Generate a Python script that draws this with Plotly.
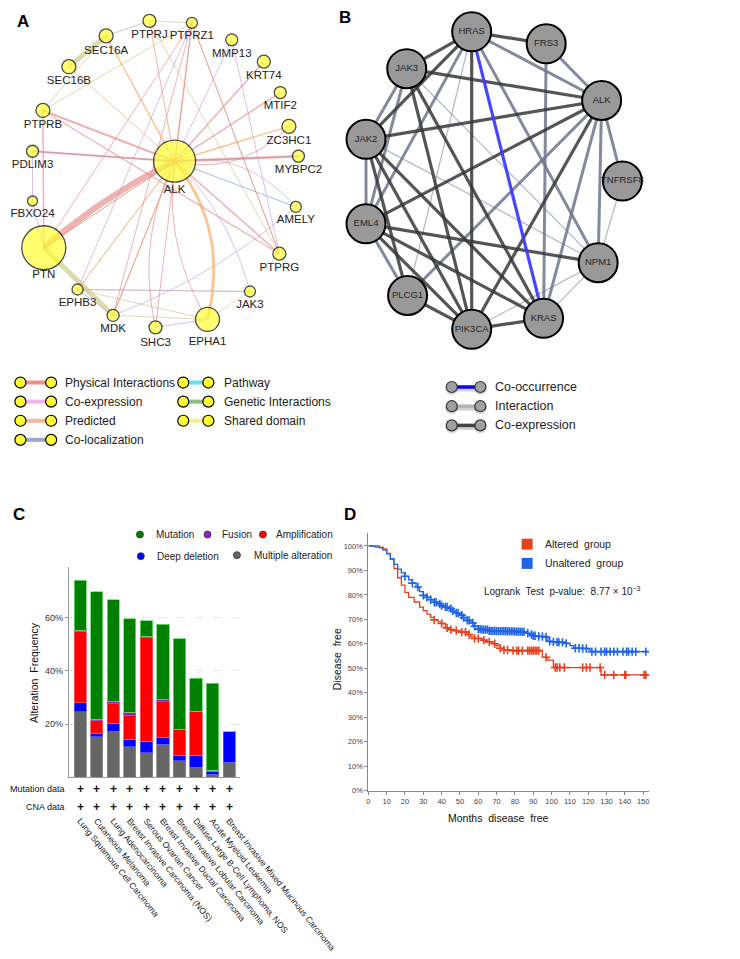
import math
import plotly.graph_objects as go

W, H = 740, 959
FONT = "Arial, Liberation Sans, sans-serif"

# ------------------------------------------------------------------ Panel A data
a_genes = ["ALK", "PTN", "EPHA1", "PTPRJ", "PTPRZ1", "SEC16A", "MMP13", "KRT74", "SEC16B",
           "MTIF2", "PTPRB", "ZC3HC1", "PDLIM3", "MYBPC2", "FBXO24", "AMELY", "PTPRG",
           "EPHB3", "JAK3", "MDK", "SHC3"]
# network layout (pixel positions of the GeneMANIA layout)
a_layout_x = [190, 39, 228, 161, 210, 111, 256, 293, 68, 312, 38, 322, 26, 333, 26, 330, 311, 78, 277, 119, 168]
a_layout_y = [154, 241, 313, 13, 15, 28, 32, 54, 59, 85, 103, 119, 144, 149, 194, 200, 247, 283, 285, 309, 321]
a_score = [42, 44, 24, 13, 11, 14, 12, 13, 14, 12, 14, 14, 12, 12, 10, 11, 13, 11, 11, 12, 13]

# edges: (gene1, gene2, network type, weight)
a_edges = [
    ("ALK", "PTN", "Physical Interactions", 6), ("ALK", "PTPRB", "Physical Interactions", 2),
    ("ALK", "PDLIM3", "Physical Interactions", 2), ("ALK", "MYBPC2", "Physical Interactions", 2.5),
    ("ALK", "KRT74", "Physical Interactions", 1.5), ("ALK", "MTIF2", "Physical Interactions", 1.5),
    ("ALK", "ZC3HC1", "Physical Interactions", 1), ("ALK", "PTPRJ", "Physical Interactions", 1),
    ("ALK", "PTPRZ1", "Physical Interactions", 1), ("ALK", "PTPRG", "Physical Interactions", 1.5),
    ("ALK", "SHC3", "Physical Interactions", 1), ("ALK", "EPHA1", "Physical Interactions", 1),
    ("ALK", "MDK", "Physical Interactions", 1), ("PTPRZ1", "PTN", "Physical Interactions", 1),
    ("PTPRZ1", "MDK", "Physical Interactions", 1), ("PTPRB", "PTN", "Physical Interactions", 1.5),
    ("PTPRB", "PTPRG", "Physical Interactions", 1.2), ("PTPRZ1", "SHC3", "Physical Interactions", 1),
    ("PTPRZ1", "PTPRG", "Physical Interactions", 1),
    ("ALK", "EPHA1", "Predicted", 3), ("ALK", "SEC16A", "Predicted", 1.5),
    ("ALK", "SEC16B", "Predicted", 1), ("ALK", "ZC3HC1", "Predicted", 1.5),
    ("ALK", "EPHB3", "Predicted", 1), ("ALK", "MDK", "Predicted", 1), ("ALK", "PTN", "Predicted", 1),
    ("PTPRJ", "SEC16A", "Co-expression", 1), ("ALK", "MMP13", "Co-expression", 1),
    ("PTPRZ1", "EPHB3", "Co-expression", 1), ("MDK", "AMELY", "Co-expression", 1),
    ("ALK", "AMELY", "Co-expression", 1), ("PDLIM3", "FBXO24", "Co-expression", 1),
    ("EPHB3", "JAK3", "Co-expression", 1), ("SHC3", "EPHA1", "Co-expression", 1),
    ("ALK", "JAK3", "Co-expression", 1), ("EPHB3", "MDK", "Co-expression", 1),
    ("FBXO24", "PTN", "Co-expression", 1), ("MMP13", "PTPRG", "Co-expression", 1),
    ("ALK", "PDLIM3", "Co-localization", 1), ("ALK", "MYBPC2", "Co-localization", 1),
    ("PTN", "ALK", "Co-localization", 1), ("ALK", "AMELY", "Co-localization", 1),
    ("SEC16A", "SEC16B", "Shared domain", 5), ("PTN", "MDK", "Shared domain", 5),
    ("PTPRJ", "PTPRZ1", "Shared domain", 1), ("PTPRB", "SEC16A", "Shared domain", 1),
    ("PTPRB", "PTPRZ1", "Shared domain", 1), ("PTPRZ1", "PTPRG", "Shared domain", 1),
    ("PTPRJ", "PTPRG", "Shared domain", 1), ("EPHB3", "EPHA1", "Shared domain", 1),
    ("EPHB3", "JAK3", "Shared domain", 1), ("EPHA1", "JAK3", "Shared domain", 1),
    ("MDK", "EPHA1", "Shared domain", 1), ("EPHB3", "ALK", "Shared domain", 1),
]
a_legend_left = ["Physical Interactions", "Co-expression", "Predicted", "Co-localization"]
a_legend_right = ["Pathway", "Genetic Interactions", "Shared domain"]

# ------------------------------------------------------------------ Panel B data
b_genes = ["HRAS", "FRS3", "JAK3", "ALK", "JAK2", "TNFRSF8", "EML4", "NPM1", "PLCG1", "KRAS", "PIK3CA"]
b_layout_x = [533, 619, 458, 683, 411, 707, 411, 679, 459, 616, 533]
b_layout_y = [24, 36, 61, 93, 132, 174, 217, 256, 289, 312, 323]
b_edges = [
    ("HRAS", "FRS3", "Co-expression"), ("HRAS", "JAK3", "Co-expression"), ("HRAS", "ALK", "Interaction"),
    ("HRAS", "JAK2", "Co-expression"), ("HRAS", "EML4", "Interaction"), ("HRAS", "PLCG1", "weak"),
    ("HRAS", "PIK3CA", "Co-expression"), ("HRAS", "KRAS", "Co-occurrence"), ("HRAS", "NPM1", "Interaction"),
    ("FRS3", "ALK", "Interaction"), ("FRS3", "KRAS", "Interaction"), ("JAK3", "ALK", "Co-expression"),
    ("JAK3", "JAK2", "Interaction"), ("JAK3", "EML4", "Interaction"), ("JAK3", "PIK3CA", "Co-expression"),
    ("JAK3", "KRAS", "Co-expression"), ("JAK3", "NPM1", "weak"), ("ALK", "JAK2", "Co-expression"),
    ("ALK", "EML4", "Co-expression"), ("ALK", "PLCG1", "Interaction"), ("ALK", "PIK3CA", "Co-expression"),
    ("ALK", "KRAS", "Interaction"), ("ALK", "NPM1", "Interaction"), ("ALK", "TNFRSF8", "Interaction"),
    ("TNFRSF8", "NPM1", "weak"), ("JAK2", "EML4", "Interaction"), ("JAK2", "PLCG1", "Co-expression"),
    ("JAK2", "PIK3CA", "Co-expression"), ("JAK2", "KRAS", "Co-expression"), ("JAK2", "NPM1", "weak"),
    ("EML4", "PLCG1", "Interaction"), ("EML4", "PIK3CA", "Co-expression"), ("EML4", "KRAS", "Co-expression"),
    ("EML4", "NPM1", "Co-expression"), ("PLCG1", "PIK3CA", "Co-expression"), ("PIK3CA", "KRAS", "Co-expression"),
    ("PIK3CA", "NPM1", "weak"), ("KRAS", "NPM1", "weak"),
]
b_legend = ["Co-occurrence", "Interaction", "Co-expression"]

# ------------------------------------------------------------------ Panel C data
c_cancers = ["Lung Squamous Cell Carcinoma", "Cutaneous Melanoma", "Lung Adenocarcinoma",
             "Breast Invasive Carcinoma (NOS)", "Serous Ovarian Cancer", "Breast Invasive Ductal Carcinoma",
             "Breast Invasive Lobular Carcinoma", "Diffuse Large B-Cell Lymphoma, NOS",
             "Acute Myeloid Leukemia", "Breast Invasive Mixed Mucinous Carcinoma"]
c_multiple = [24.7, 15.3, 17.4, 11.5, 9.3, 12.4, 6.2, 3.9, 1.3, 5.7]
c_deep_deletion = [3.4, 1.1, 2.7, 2.6, 4.3, 2.5, 1.9, 4.2, 1.0, 11.7]
c_amplification = [26.8, 5.1, 7.6, 9.3, 39.0, 13.6, 9.8, 16.8, 0.5, 0]
c_fusion = [0.4, 0.4, 0.8, 1.1, 0.4, 0.6, 0, 0, 0, 0]
c_mutation = [18.7, 47.9, 38.2, 35.0, 5.8, 28.4, 34.1, 12.4, 32.5, 0]
c_yticks = [20, 40, 60]
c_yticklabels = ["20%", "40%", "60%"]

# ------------------------------------------------------------------ Panel D data
d_alt_t = [0, 4, 6, 8, 10, 12, 14, 16, 18, 20, 22, 25, 28, 30, 32, 34, 36, 38, 40, 42, 44, 46, 50, 54,
           56, 58, 62, 64, 68, 70, 72, 74, 78, 95, 98, 101, 127, 153]
d_alt_s = [1.0, 1.0, 0.995, 0.988, 0.970, 0.945, 0.907, 0.870, 0.840, 0.810, 0.790, 0.771, 0.750, 0.736,
           0.721, 0.708, 0.698, 0.690, 0.683, 0.665, 0.658, 0.654, 0.648, 0.638, 0.628, 0.622, 0.615,
           0.608, 0.600, 0.592, 0.582, 0.575, 0.572, 0.545, 0.533, 0.503, 0.473, 0.473]
d_alt_cens = [36, 40, 43, 45, 48, 51, 53, 55, 58, 60, 63, 66, 69, 72, 74, 76, 79, 81, 82, 84, 87, 88,
              89, 90, 91, 92, 93, 97, 102, 103, 104.5, 107, 117, 119, 121, 126.5, 129, 134, 140, 140.5,
              150.5, 151.5]
d_unalt_t = [0, 2, 4, 6, 8, 10, 12, 14, 16, 18, 20, 22, 24, 26, 28, 30, 32, 34, 36, 38, 40, 42, 44, 46,
             48, 50, 52, 54, 56, 58, 60, 62, 66, 70, 76, 80, 84, 86, 88, 90, 92, 96, 98, 100, 104, 108,
             110, 112, 116, 120, 121, 153]
d_unalt_s = [1.0, 0.998, 0.995, 0.992, 0.983, 0.968, 0.948, 0.925, 0.905, 0.890, 0.876, 0.862, 0.848,
             0.832, 0.813, 0.798, 0.790, 0.780, 0.770, 0.763, 0.756, 0.751, 0.744, 0.734, 0.726, 0.717,
             0.707, 0.696, 0.685, 0.672, 0.660, 0.658, 0.653, 0.652, 0.651, 0.650, 0.649, 0.643, 0.638,
             0.633, 0.630, 0.628, 0.610, 0.608, 0.606, 0.602, 0.593, 0.582, 0.581, 0.578, 0.568, 0.568]
d_unalt_cens = [20, 24, 27, 30, 32, 34, 36, 37, 39, 40, 42, 43, 45, 46, 48, 49, 51, 52, 54, 55, 57, 58,
                60, 61, 62, 63, 64, 65, 66, 67, 68, 69, 70, 71, 72, 73, 74, 75, 76, 77, 78, 79, 80, 81,
                82, 83, 84, 85, 87, 89, 90, 91, 93, 95, 97, 99, 101, 103, 104, 106, 108, 113, 115, 117,
                119, 122, 124, 127, 129, 130, 132, 134, 136, 139, 141, 142, 144, 146, 151.5]
d_groups = ["Altered group", "Unaltered group"]
d_pvalue = "8.77 × 10<sup>−3</sup>"

# ------------------------------------------------------------------ styles
A_COLORS = {
    "Physical Interactions": "rgba(232,135,135,0.65)", "Co-expression": "rgba(200,165,225,0.7)",
    "Predicted": "rgba(245,180,115,0.75)", "Co-localization": "rgba(140,170,225,0.8)",
    "Pathway": "rgba(80,225,235,1)", "Genetic Interactions": "rgba(140,190,115,1)",
    "Shared domain": "rgba(210,205,150,0.75)",
}
A_LEG_COLORS = {
    "Physical Interactions": "#f08c8c", "Co-expression": "#f0b4f0", "Predicted": "#f4b89a",
    "Co-localization": "#9aaac0", "Pathway": "#5ce6ee", "Genetic Interactions": "#8cc080",
    "Shared domain": "#f4f090",
}
A_CURVE = {("ALK", "EPHA1", "Predicted"): -0.28, ("ALK", "EPHA1", "Physical Interactions"): 0.2,
           ("ALK", "ZC3HC1", "Physical Interactions"): 0.25, ("ALK", "AMELY", "Co-expression"): -0.25,
           ("ALK", "PTN", "Physical Interactions"): 0.06, ("ALK", "SHC3", "Physical Interactions"): 0.2,
           ("ALK", "JAK3", "Co-expression"): -0.15, ("MDK", "AMELY", "Co-expression"): 0.08}
A_LABEL_SHIFT = {"PTN": -2, "EPHA1": 3, "SHC3": 1}
B_STYLE = {
    "Co-expression": ("rgba(55,55,55,0.85)", 3.2), "Interaction": ("rgba(110,118,140,0.85)", 3.0),
    "weak": ("rgba(150,158,180,0.7)", 1.3), "Co-occurrence": ("rgba(60,60,255,0.95)", 3.2),
}
B_LEG = {"Co-occurrence": "#0a0ae6", "Interaction": "#b4b4b4", "Co-expression": "#444444"}
C_COLORS = [("Multiple alteration", "#666666", "#8a8a8a"), ("Deep deletion", "#0000ff", "#5a5aff"),
            ("Amplification", "#ff0000", "#ff5a5a"), ("Fusion", "#8b1fc8", "#a050d8"),
            ("Mutation", "#008000", "#6ee06e")]
D_COLORS = ["#e8401c", "#1f64e6"]


def dom_x(px0, px1):
    return [px0 / W, px1 / W]


def dom_y(py_top, py_bot):
    return [1 - py_bot / H, 1 - py_top / H]


def bezier(p0, p1, c):
    mx, my = (p0[0] + p1[0]) / 2, (p0[1] + p1[1]) / 2
    dx, dy = p1[0] - p0[0], p1[1] - p0[1]
    cx, cy = mx - dy * c, my + dx * c
    xs, ys = [], []
    for i in range(21):
        t = i / 20
        xs.append((1 - t) ** 2 * p0[0] + 2 * (1 - t) * t * cx + t * t * p1[0])
        ys.append((1 - t) ** 2 * p0[1] + 2 * (1 - t) * t * cy + t * t * p1[1])
    return xs, ys


fig = go.Figure()
OV = dict(xaxis="x", yaxis="y")

# ---------------- Panel A edges
apos = {g: (x, y) for g, x, y in zip(a_genes, a_layout_x, a_layout_y)}
groups = {}
for g1, g2, kind, w in a_edges:
    c = A_CURVE.get((g1, g2, kind), 0)
    xs, ys = bezier(apos[g1], apos[g2], c)
    key = (kind, w)
    groups.setdefault(key, ([], []))
    groups[key][0].extend(xs + [None])
    groups[key][1].extend(ys + [None])
order = ["Shared domain", "Co-expression", "Co-localization", "Predicted", "Physical Interactions"]
for kind in order:
    for (k, w), (xs, ys) in groups.items():
        if k != kind:
            continue
        fig.add_trace(go.Scatter(x=xs, y=ys, mode="lines", line=dict(color=A_COLORS[k], width=w),
                                 hoverinfo="skip", showlegend=False, **OV))
fig.add_trace(go.Scatter(x=a_layout_x, y=a_layout_y, mode="markers",
                         marker=dict(size=a_score, color="#ffff33", line=dict(color="black", width=1.3)),
                         text=a_genes, hoverinfo="text", showlegend=False, **OV))
fig.add_trace(go.Scatter(x=a_layout_x,
                         y=[y + s / 2 + 8 + A_LABEL_SHIFT.get(g, 0) for g, y, s in zip(a_genes, a_layout_y, a_score)],
                         mode="text", text=a_genes, textfont=dict(family=FONT, size=11.5, color="#222"),
                         hoverinfo="skip", showlegend=False, **OV))

# ---------------- Panel A legend
for col, (items, x0, x1, xt) in enumerate([(a_legend_left, 12, 47.5, 61), (a_legend_right, 200, 229, 245)]):
    for i, name in enumerate(items):
        yy = 376.5 + i * 19.2
        fig.add_trace(go.Scatter(x=[x0, x1], y=[yy, yy], mode="lines+markers",
                                 line=dict(color=A_LEG_COLORS[name], width=4),
                                 marker=dict(size=11, color="#ffff33", line=dict(color="black", width=1.2)),
                                 hoverinfo="skip", showlegend=False, **OV))
        fig.add_annotation(x=xt, y=yy, xref="x", yref="y", text=name, showarrow=False, xanchor="left",
                           yanchor="middle", font=dict(family=FONT, size=12, color="#222"))

# ---------------- Panel B
bpos = {g: (x, y) for g, x, y in zip(b_genes, b_layout_x, b_layout_y)}
for kind in ["weak", "Interaction", "Co-expression", "Co-occurrence"]:
    xs, ys = [], []
    for g1, g2, k in b_edges:
        if k == kind:
            xs += [bpos[g1][0], bpos[g2][0], None]
            ys += [bpos[g1][1], bpos[g2][1], None]
    col, w = B_STYLE[kind]
    fig.add_trace(go.Scatter(x=xs, y=ys, mode="lines", line=dict(color=col, width=w),
                             hoverinfo="skip", showlegend=False, **OV))
fig.add_trace(go.Scatter(x=b_layout_x, y=b_layout_y, mode="markers+text", text=b_genes,
                         textposition="middle center", textfont=dict(family=FONT, size=9.5, color="#222"),
                         marker=dict(size=39, color="#999999", line=dict(color="black", width=2)),
                         hoverinfo="text", showlegend=False, cliponaxis=False, **OV))
for i, name in enumerate(b_legend):
    yy = 381 + i * 19.3
    fig.add_trace(go.Scatter(x=[510, 543], y=[yy + 1.5, yy + 1.5], mode="lines+markers",
                             line=dict(color="rgba(0,0,0,0.18)", width=6),
                             marker=dict(size=13, color="rgba(0,0,0,0.15)"),
                             hoverinfo="skip", showlegend=False, **OV))
    fig.add_trace(go.Scatter(x=[510, 543], y=[yy, yy], mode="lines+markers",
                             line=dict(color=B_LEG[name], width=3.5),
                             marker=dict(size=11, color="#a0a0a0", line=dict(color="#333", width=1.2)),
                             hoverinfo="skip", showlegend=False, **OV))
    fig.add_annotation(x=558, y=yy, xref="x", yref="y", text=name, showarrow=False, xanchor="left",
                       yanchor="middle", font=dict(family=FONT, size=12.5, color="#222"))

# ---------------- Panel C bars
c_series = [c_multiple, c_deep_deletion, c_amplification, c_fusion, c_mutation]
for (name, col, lcol), vals in zip(C_COLORS, c_series):
    fig.add_trace(go.Bar(x=c_cancers, y=vals, name=name, marker=dict(color=col, line=dict(color=lcol, width=0.8)),
                         width=0.74, showlegend=False, xaxis="x2", yaxis="y2"))
# C legend
c_leg = [("Mutation", "#008000", 150, 529.3, 166), ("Fusion", "#8b1fc8", 228, 529.3, 242.5),
         ("Amplification", "#ff0000", 292, 529.3, 305), ("Deep deletion", "#0000ff", 151, 551, 167.5),
         ("Multiple alteration", "#666666", 262, 550, 279)]
for name, col, mx, my, tx in c_leg:
    fig.add_trace(go.Scatter(x=[mx], y=[my], mode="markers",
                             marker=dict(size=7, color=col, line=dict(color="#333", width=0.8)),
                             hoverinfo="skip", showlegend=False, **OV))
    fig.add_annotation(x=tx, y=my, xref="x", yref="y", text=name, showarrow=False, xanchor="left",
                       yanchor="middle", font=dict(family=FONT, size=10, color="#222"))
for lab, yy in [("Mutation data", 785), ("CNA data", 803)]:
    fig.add_annotation(x=66, y=yy, xref="x", yref="y", text=lab, showarrow=False, xanchor="right",
                       yanchor="middle", font=dict(family=FONT, size=9, color="#111"))
    for cat in c_cancers:
        fig.add_annotation(x=cat, y=yy, xref="x2", yref="y", text="<b>+</b>", showarrow=False,
                           xanchor="center", yanchor="middle", font=dict(family=FONT, size=12, color="#111"))
fig.add_annotation(x=27, y=668, xref="x", yref="y", text="Alteration  Frequency", textangle=-90,
                   showarrow=False, font=dict(family=FONT, size=10.5, color="#111"))

# ---------------- Panel D
def step_at(ts, ss, t):
    v = ss[0]
    for ti, si in zip(ts, ss):
        if ti <= t:
            v = si
    return v


for (ts, ss, cens), col, name in zip([(d_alt_t, d_alt_s, d_alt_cens), (d_unalt_t, d_unalt_s, d_unalt_cens)],
                                     D_COLORS, d_groups):
    fig.add_trace(go.Scatter(x=ts, y=ss, mode="lines", line=dict(color=col, width=1.3, shape="hv"),
                             name=name, showlegend=False, xaxis="x3", yaxis="y3"))
    fig.add_trace(go.Scatter(x=cens, y=[step_at(ts, ss, t) for t in cens], mode="markers",
                             marker=dict(symbol="cross-thin", size=6, line=dict(color=col, width=1.6)),
                             hoverinfo="skip", showlegend=False, xaxis="x3", yaxis="y3"))
for i, (name, col) in enumerate(zip(d_groups, D_COLORS)):
    yy = 539 + i * 19.3
    fig.add_trace(go.Scatter(x=[597], y=[yy], mode="markers",
                             marker=dict(symbol="square", size=11, color=col), hoverinfo="skip",
                             showlegend=False, **OV))
    fig.add_annotation(x=615, y=yy, xref="x", yref="y", text=name.replace(" ", "  "), showarrow=False,
                       xanchor="left", yanchor="middle", font=dict(family=FONT, size=10.5, color="#222"))
fig.add_annotation(x=731, y=586, xref="x", yref="y", text="Logrank  Test  p-value:  " + d_pvalue,
                   showarrow=False, xanchor="right", yanchor="middle", font=dict(family=FONT, size=10, color="#222"))
fig.add_annotation(x=564, y=814, xref="x", yref="y", text="Months  disease  free", showarrow=False,
                   font=dict(family=FONT, size=10.5, color="#111"))
fig.add_annotation(x=377, y=655, xref="x", yref="y", text="Disease  free", textangle=-90, showarrow=False,
                   font=dict(family=FONT, size=10.5, color="#111"))

# ---------------- panel letters
for letter, x, y in [("A", 15, 14), ("B", 387, 10), ("C", 10, 509), ("D", 392, 509)]:
    fig.add_annotation(x=x, y=y, xref="x", yref="y", text="<b>%s</b>" % letter, showarrow=False,
                       font=dict(family=FONT, size=17, color="black"))

fig.update_layout(
    width=W, height=H, margin=dict(l=0, r=0, t=0, b=0), paper_bgcolor="white", plot_bgcolor="rgba(0,0,0,0)",
    barmode="stack", font=dict(family=FONT),
    xaxis=dict(domain=[0, 1], range=[0, W], visible=False, fixedrange=True),
    yaxis=dict(domain=[0, 1], range=[H, 0], visible=False, fixedrange=True),
    xaxis2=dict(domain=dom_x(68, 266), range=[-0.68, 9.68], anchor="y2", showline=True, linecolor="#999",
                linewidth=1.3, ticks="", tickangle=51, ticklabelstandoff=34,
                tickfont=dict(family=FONT, size=8.6, color="#222"), showgrid=False),
    yaxis2=dict(domain=dom_y(562, 773.5), range=[0, 79], anchor="x2", showline=True, linecolor="#999",
                linewidth=1.3, tickvals=c_yticks, ticktext=c_yticklabels, ticks="outside", ticklen=3,
                tickcolor="#999", tickfont=dict(family=FONT, size=9, color="#333"), showgrid=True,
                gridcolor="#e6e6e6", griddash="dash", zeroline=False),
    xaxis3=dict(domain=dom_x(413.7, 737.7), range=[0, 153.2], anchor="y3", showline=True, linecolor="#888",
                linewidth=1, dtick=10, tick0=0, ticks="outside", ticklen=3, tickcolor="#888",
                tickfont=dict(family=FONT, size=7.5, color="#444"), showgrid=False, zeroline=False),
    yaxis3=dict(domain=dom_y(528, 786.7), range=[0, 1.052], anchor="x3", showline=True, linecolor="#888",
                linewidth=1, dtick=0.1, tick0=0, tickformat=".0%", ticks="outside", ticklen=3, tickcolor="#888",
                tickfont=dict(family=FONT, size=7.5, color="#444"), showgrid=False, zeroline=False),
)

fig.write_html("out.html")
